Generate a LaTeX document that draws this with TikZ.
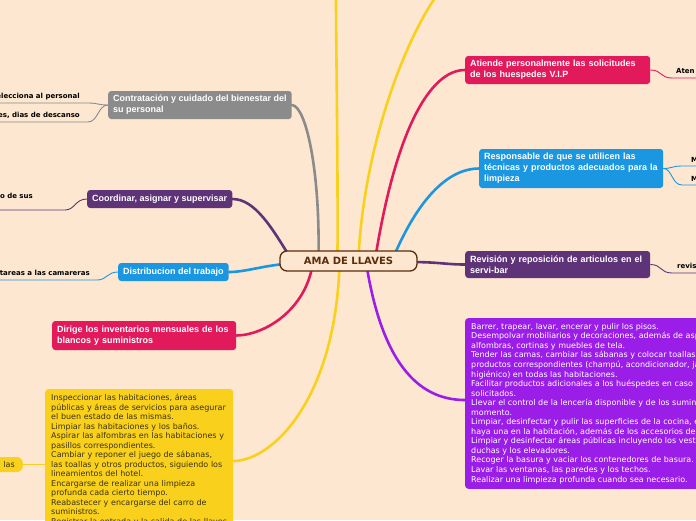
\documentclass[tikz,border=0pt]{standalone}
\usepackage{fontspec}
\setmainfont{DejaVu Sans}
\newfontfamily\topicfont{Liberation Sans}
\usepackage{xcolor}
\usetikzlibrary{positioning,calc}
\definecolor{paper}{HTML}{FDE7D0}
\definecolor{rootbrown}{HTML}{5A2D0C}
\definecolor{mmgray}{HTML}{8B8B8B}
\definecolor{mmplum}{HTML}{5E3377}
\definecolor{mmblue}{HTML}{1B97E2}
\definecolor{mmpink}{HTML}{E21A5C}
\definecolor{mmyellow}{HTML}{F9D11D}
\definecolor{mmviolet}{HTML}{9A1EE8}
\definecolor{notetext}{HTML}{3B3214}
\pgfdeclarelayer{bg}
\pgfsetlayers{bg,main}
\tikzset{
  root/.style={draw=rootbrown, line width=1.3pt, fill=paper, rounded corners=7pt, minimum width=137pt, minimum height=20pt, inner sep=2pt, text=rootbrown, font=\bfseries\fontsize{10}{12}\selectfont},
  topic/.style={rounded corners=3pt, text=white, align=left, inner xsep=5pt, inner ysep=3pt, font=\topicfont\bfseries\fontsize{9}{11}\selectfont},
  notes/.style={rounded corners=3pt, align=left, inner xsep=6pt, inner ysep=5pt, font=\fontsize{8}{9.5}\selectfont},
  pill/.style={fill=mmyellow, rounded corners=6pt, minimum height=15pt, inner xsep=8pt, inner ysep=2pt, text width=16pt, align=right, text=notetext, font=\fontsize{8}{9.5}\selectfont},
  leaf/.style={inner sep=0pt, font=\bfseries\fontsize{7}{8}\selectfont},
  branch/.style={line width=2.6pt, line cap=round},
  twig/.style={line width=0.9pt}
}

\begin{document}
\begin{tikzpicture}[x=1pt,y=-1pt]
  \useasboundingbox (0,0) rectangle (696,520);
  \begin{pgfonlayer}{bg}
    \fill[paper] (0,0) rectangle (696,520);
  \end{pgfonlayer}

  % centre
  \node[root] (root) at (348.5,261) {AMA DE LLAVES};

  % left topics
  \node[topic, fill=mmgray, minimum height=28pt, anchor=west] (contr) at (108,105) {Contratación y cuidado del bienestar del\\su personal};
  \node[topic, fill=mmplum, minimum height=18pt, anchor=west] (coord) at (87,199) {Coordinar, asignar y supervisar};
  \node[topic, fill=mmblue, minimum height=18pt, anchor=west] (distr) at (118,272) {Distribucion del trabajo};
  \node[topic, fill=mmpink, text width=174pt, minimum height=29pt, anchor=west] (invent) at (52,335.5) {Dirige los inventarios mensuales de los\\blancos y suministros};
  \node[notes, fill=mmyellow, text=notetext, text width=176pt, anchor=north west] (limp) at (45,389) {Inspeccionar las habitaciones, áreas\\públicas y áreas de servicios para asegurar\\el buen estado de las mismas.\\Limpiar las habitaciones y los baños.\\Aspirar las alfombras en las habitaciones y\\pasillos correspondientes.\\Cambiar y reponer el juego de sábanas,\\las toallas y otros productos, siguiendo los\\lineamientos del hotel.\\Encargarse de realizar una limpieza\\profunda cada cierto tiempo.\\Reabastecer y encargarse del carro de\\suministros.\\Registrar la entrada y la salida de las llaves};

  % right topics
  \node[topic, fill=mmpink, text width=175pt, minimum height=28pt, anchor=west] (vip) at (465,70) {Atiende personalmente las solicitudes\\de los huespedes V.I.P};
  \node[topic, fill=mmblue, text width=174pt, minimum height=39pt, anchor=west] (resp) at (479,168.5) {Responsable de que se utilicen las\\técnicas y productos adecuados para la\\limpieza};
  \node[topic, fill=mmplum, text width=175pt, minimum height=27pt, anchor=west] (servi) at (465,264.5) {Revisión y reposición de articulos en el\\servi-bar};
  \node[notes, fill=mmviolet, text=white, anchor=north west, font=\fontsize{8}{9.55}\selectfont] (tasks) at (465,318) {Barrer, trapear, lavar, encerar y pulir los pisos.\\Desempolvar mobiliarios y decoraciones, además de aspirar\\alfombras, cortinas y muebles de tela.\\Tender las camas, cambiar las sábanas y colocar toallas y\\productos correspondientes (champú, acondicionador, jabón, papel\\higiénico) en todas las habitaciones.\\Facilitar productos adicionales a los huéspedes en caso de ser\\solicitados.\\Llevar el control de la lencería disponible y de los suministros en todo\\momento.\\Limpiar, desinfectar y pulir las superficies de la cocina, en caso de que\\haya una en la habitación, además de los accesorios del baño.\\Limpiar y desinfectar áreas públicas incluyendo los vestíbulos,\\duchas y los elevadores.\\Recoger la basura y vaciar los contenedores de basura.\\Lavar las ventanas, las paredes y los techos.\\Realizar una limpieza profunda cuando sea necesario.};

  % leaves
  \node[leaf, anchor=base east] (selec) at (80,98) {elecciona al personal};
  \node[leaf, anchor=base east] (desc) at (80,117) {es, dias de descanso};
  \node[leaf, anchor=base east] (sus) at (33,198) {o de sus};
  \node[leaf, anchor=base east] (tareas) at (90,275) {tareas a las camareras};
  \node[pill, anchor=east] (las) at (23,464.5) {las};
  \node[leaf, anchor=base west] (aten) at (676,73) {Aten};
  \node[leaf, anchor=base west] (mone) at (691,162) {M};
  \node[leaf, anchor=base west] (mtwo) at (691,181) {M};
  \node[leaf, anchor=base west] (revis) at (677,268) {revis};

  % off-page ends
  \coordinate (topA) at (336,-5);
  \coordinate (topB) at (437,-5);
  \coordinate (selecEnd) at (-5,103);
  \coordinate (descEnd) at (-5,122);
  \coordinate (susEnd) at (-5,210);
  \coordinate (tareasEnd) at (-5,280);
  \coordinate (atenEnd) at (700,78);
  \coordinate (moneEnd) at (700,166);
  \coordinate (mtwoEnd) at (700,185);
  \coordinate (revisEnd) at (700,273);

  \begin{pgfonlayer}{bg}
    % branches
    \draw[branch, mmgray] ($(root.center)+(-30,-4)$) .. controls (320,170) and (306,106) .. (contr.east);
    \draw[branch, mmplum] ($(root.center)+(-58,-3)$) .. controls (272,228) and (255,199) .. (coord.east);
    \draw[branch, mmblue] ($(root.center)+(-64,3)$) .. controls (262,266) and (245,272) .. (distr.east);
    \draw[branch, mmpink] ($(root.center)+(-36,4)$) .. controls (305,310) and (265,335) .. (invent.east);
    \draw[branch, mmyellow] ($(root.center)+(-9,4)$) .. controls (335,400) and (272,461) .. ($(limp.north east)+(0,72)$);
    \draw[branch, mmyellow] ($(root.center)+(-11,-4)$) .. controls (338,150) and (336,50) .. (topA);
    \draw[branch, mmyellow] ($(root.center)+(10,-4)$) .. controls (364,150) and (402,45) .. (topB);
    \draw[branch, mmpink] ($(root.center)+(27,-4)$) .. controls (396,130) and (430,70) .. (vip.west);
    \draw[branch, mmblue] ($(root.center)+(45,-4)$) .. controls (420,195) and (450,168.5) .. (resp.west);
    \draw[branch, mmplum] ($(root.center)+(60,1)$) .. controls (440,262) and (445,264.5) .. (servi.west);
    \draw[branch, mmviolet] ($(root.center)+(18,4)$) .. controls (385,380) and (430,400) .. ($(tasks.north west)+(0,82)$);
    % twigs
    \draw[twig, mmgray] (contr.west) .. controls (98,105) and (98,103) .. (88,103) -- (selecEnd);
    \draw[twig, mmgray] (contr.west) .. controls (98,105) and (98,122) .. (88,122) -- (descEnd);
    \draw[twig, mmplum] (coord.west) .. controls (75,199) and (75,210) .. (65,210) -- (susEnd);
    \draw[twig, mmblue] (distr.west) .. controls (107,272) and (107,280) .. (97,280) -- (tareasEnd);
    \draw[twig, mmyellow] (las.east) -- (las.east -| limp.west);
    \draw[twig, mmpink] (vip.east) .. controls (662,70) and (660,78) .. (672,78) -- (atenEnd);
    \draw[twig, mmblue] (resp.east) .. controls (672,168.5) and (672,166) .. (682,166) -- (moneEnd);
    \draw[twig, mmblue] (resp.east) .. controls (672,168.5) and (672,185) .. (682,185) -- (mtwoEnd);
    \draw[twig, mmplum] (servi.east) .. controls (662,264.5) and (660,273) .. (672,273) -- (revisEnd);
  \end{pgfonlayer}
\end{tikzpicture}
\end{document}
